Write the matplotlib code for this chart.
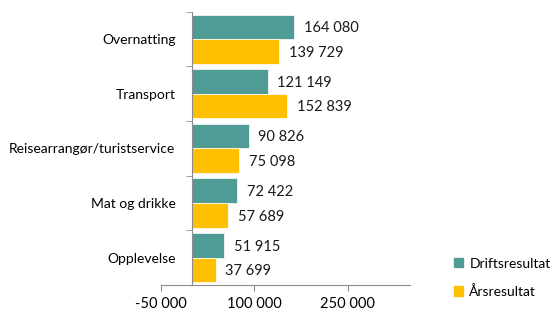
import matplotlib.pyplot as plt
from matplotlib.patches import Patch
import numpy as np

plt.rcParams['font.family'] = ['Lato', 'DejaVu Sans']

categories = ["Overnatting", "Transport", "Reisearrangør/turistservice", "Mat og drikke", "Opplevelse"]
drift = [164080, 121149, 90826, 72422, 51915]
aars = [139729, 152839, 75098, 57689, 37699]
xticks = [-50000, 100000, 250000]

tealColor = "#4f9b95"
goldColor = "#ffc000"
axisColor = "#8c8c8c"

def fmt(v):
    return "{:,}".format(v).replace(",", " ")

fig = plt.figure(figsize=(5.55, 3.12), dpi=100)
ax = fig.add_axes([0.29, 0.087, 0.449, 0.875])

y = np.arange(len(categories))
h = 0.45
b1 = ax.barh(y - h / 2, drift, height=h, color=tealColor, edgecolor="white", linewidth=0.5)
b2 = ax.barh(y + h / 2, aars, height=h, color=goldColor, edgecolor="white", linewidth=0.5)

# value labels right of each bar
for bars, vals in ((b1, drift), (b2, aars)):
    for rect, v in zip(bars, vals):
        ax.annotate(fmt(v), (v, rect.get_y() + rect.get_height() / 2),
                    xytext=(7, -1), textcoords="offset points",
                    va="center", ha="left", fontsize=10.5, color="#1a1a1a")

ax.set_xlim(-50000, 350000)
ax.set_ylim(len(categories) - 0.5, -0.5)
ax.set_xticks(xticks)
ax.set_xticklabels([fmt(t) for t in xticks], fontsize=10.5)

ax.set_yticks(y)
ax.set_yticklabels(categories, fontsize=10.5)
ax.set_yticks(np.arange(-0.5, len(categories)), minor=True)
ax.tick_params(axis="y", which="major", length=0, pad=12)
ax.tick_params(axis="y", which="minor", length=4, color=axisColor)
ax.tick_params(axis="x", length=4, color=axisColor, pad=5)

ax.spines["left"].set_position(("data", 0))
for s in ("top", "right"):
    ax.spines[s].set_visible(False)
for s in ("left", "bottom"):
    ax.spines[s].set_color(axisColor)

handles = [Patch(color=tealColor, label="Driftsresultat"), Patch(color=goldColor, label="Årsresultat")]
fig.legend(handles=handles, loc="lower left", bbox_to_anchor=(0.818, 0.045),
           frameon=False, fontsize=10, handlelength=0.65, handleheight=0.65,
           handletextpad=0.45, labelspacing=1.1, borderpad=0, borderaxespad=0)

fig.savefig("out.png", dpi=100)
